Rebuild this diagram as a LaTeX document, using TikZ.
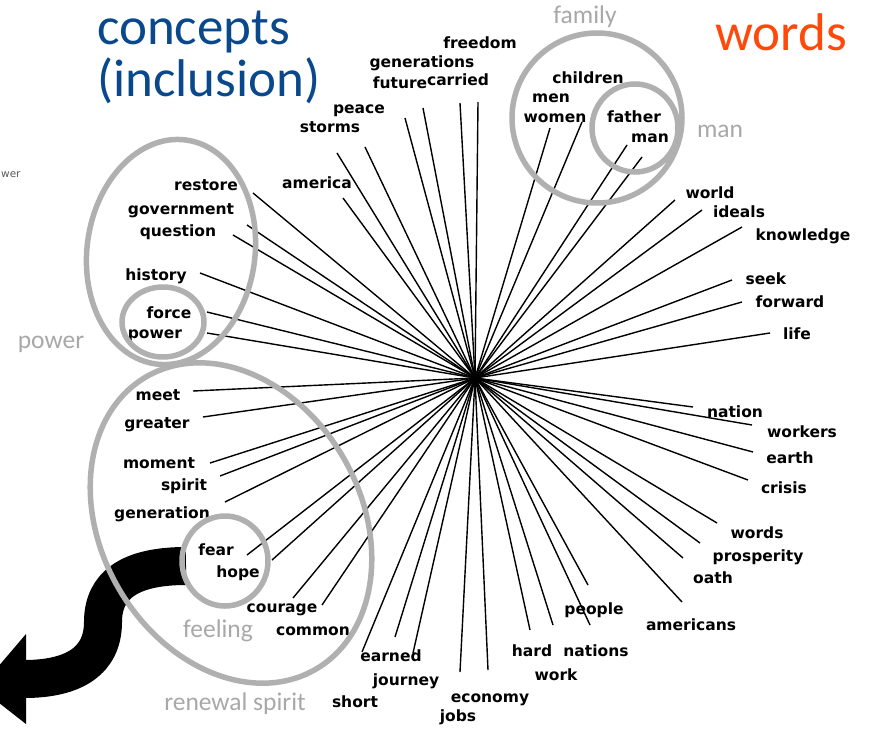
\documentclass[tikz,border=0pt]{standalone}
\usepackage{fontspec}
\setmainfont{DejaVu Sans}
\newfontfamily\labfont{DejaVu Sans}
\newfontfamily\calfont{Carlito}
\definecolor{ringc}{RGB}{176,176,176}
\definecolor{grpc}{RGB}{168,168,168}
\definecolor{titleblue}{RGB}{10,72,140}
\definecolor{titleorange}{RGB}{255,72,10}
\tikzset{
  lbl/.style={font=\labfont\bfseries\fontsize{15.5}{18}\selectfont, anchor=base, inner sep=0pt},
  grp/.style={font=\calfont\fontsize{25.5}{30}\selectfont, text=grpc, anchor=base, inner sep=0pt},
  title/.style={font=\calfont\fontsize{53}{60}\selectfont, anchor=base west, inner sep=0pt},
  ring/.style={draw=ringc, line width=5.5pt},
  edge/.style={line width=1.4pt, black},
}
\begin{document}
\begin{tikzpicture}[x=1pt,y=-1pt]
\useasboundingbox (0,0) rectangle (869,728);
\clip (0,0) rectangle (869,728);
\fill[white] (0,0) rectangle (869,728);
\coordinate (c) at (475,378);
% connectors
\foreach \ex/\ey [count=\i] in {253/193,247/225,233/235,200/273,207/312,207/333,343/198,337/153,365/147,405/118,423/108,460/103,478/102,550/128,582/122,627/145,642/157,675/200,702/210,742/227,732/280,742/302,770/333,693/407,752/425,753/452,748/480,717/523,700/543,683/558,682/602,588/585,590/625,553/625,530/630,488/670,460/672,413/653,395/637,362/652,322/605,293/598,272/560,247/555,225/502,220/476,210/463,203/417,193/391}
{
  \coordinate (e\i) at (\ex,\ey);
  \draw[edge] (c) -- (e\i);
}
% word labels
\foreach \t/\lx/\ly in {freedom/480/43,generations/422/62,future/400/83,carried/458/80,peace/359/108,storms/330/127,america/317/183,restore/206/185,government/181/209,question/178/231,history/156/275,force/169/313,power/155/333,children/588/78,men/551/97,women/555/117,father/634/117,man/650/137,world/710/193,ideals/739/212,knowledge/803/235,seek/766/279,forward/790/302,life/797/334,nation/735/412,workers/802/432,earth/790/458,crisis/784/488,words/757/533,prosperity/758/556,oath/713/578,americans/691/625,people/594/609,hard/532/651,nations/596/651,work/556/675,economy/490/697,jobs/458/716,short/355/702,journey/406/680,earned/391/656,courage/282/607,common/313/630,fear/216/550,hope/238/572,generation/162/513,spirit/184/485,moment/159/463,greater/157/423,meet/158/395}
{
  \node[lbl] (t-\t) at (\lx,\ly+5) {\t};
}
% curved black arrow
\draw[line width=38pt, black] (186,566) .. controls (130,566) and (103,585) .. (103,622) .. controls (103,660) and (75,679) .. (24,679);
\fill[black] (26,634) -- (26,724) -- (-20,688) -- cycle;
% group rings
\draw[ring] (597,118) circle [radius=85pt];
\draw[ring] (635,128) ellipse [x radius=43pt, y radius=44pt];
\draw[ring, rotate around={-7.6:(171,252)}] (171,252) ellipse [x radius=84pt, y radius=113pt];
\draw[ring] (163,322) ellipse [x radius=41pt, y radius=35pt];
\draw[ring, rotate around={30:(231,523)}] (231,523) ellipse [x radius=130pt, y radius=169pt];
\draw[ring] (225,561) ellipse [x radius=43pt, y radius=45pt];
% group names
\node[grp] (g-family) at (585,23) {family};
\node[grp] (g-man) at (720,137) {man};
\node[grp] (g-power) at (51,348) {power};
\node[grp] (g-feeling) at (218,637) {feeling};
\node[grp] (g-renewal) at (235,710) {renewal spirit};
\node[font=\labfont\fontsize{10.5}{12}\selectfont, text=black!65, anchor=base west, inner sep=0pt] (cut) at (1,177) {wer};
% titles
\node[title, text=titleblue] (concepts) at (97,44) {concepts};
\node[title, text=titleblue] (inclusion) at (97,96) {(inclusion)};
\node[title, text=titleorange] (words) at (715,50) {words};
\end{tikzpicture}
\end{document}
